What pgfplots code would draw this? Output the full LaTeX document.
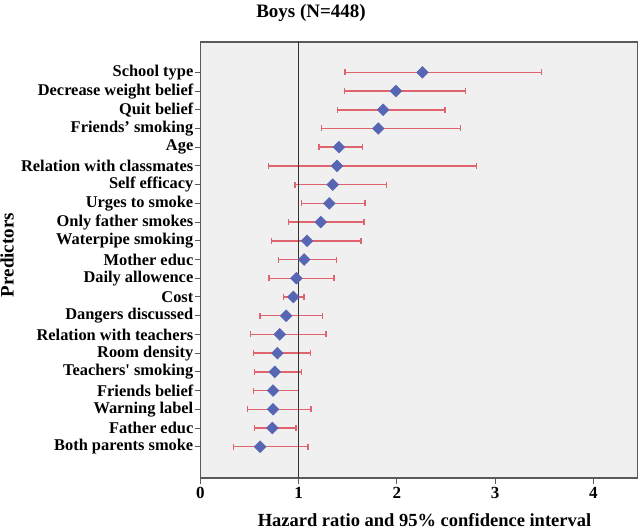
\documentclass[border=0pt]{standalone}
\usepackage{pgfplots}
\pgfplotsset{compat=1.18}
\usepackage{pgfplotstable}
\usepackage{fontspec}
\setmainfont{Liberation Serif}

\definecolor{panel}{RGB}{240,240,240}
\definecolor{frame}{RGB}{90,90,90}
\definecolor{errcol}{RGB}{224,100,110}
\definecolor{dotcol}{RGB}{86,102,178}

% row, hazard ratio, lower CI, upper CI (row 1 = top)
\pgfplotstableread{
row hr   lo    hi
1   2.26 1.47  3.47
2   1.99 1.465 2.70
3   1.86 1.394 2.49
4   1.81 1.234 2.65
5   1.41 1.207 1.648
6   1.39 0.692 2.81
7   1.346 0.963 1.895
8   1.312 1.031 1.675
9   1.224 0.895 1.665
10  1.085 0.726 1.634
11  1.055 0.797 1.387
12  0.977 0.699 1.36
13  0.946 0.848 1.055
14  0.872 0.607 1.245
15  0.807 0.512 1.278
16  0.783 0.543 1.119
17  0.756 0.549 1.031
18  0.739 0.543 1.0
19  0.739 0.482 1.126
20  0.732 0.553 0.973
21  0.607 0.339 1.095
}\hrdata

\begin{document}
\begin{tikzpicture}
\path[use as bounding box] (0,0) rectangle (640pt,530pt);
\begin{axis}[
  at={(200.5pt,52pt)}, anchor=south west,
  scale only axis,
  width=437pt, height=436pt,
  xmin=0, xmax=4.45,
  ymin=-0.62, ymax=22.67,
  y dir=reverse,
  axis background/.style={fill=panel},
  axis line style={draw=frame, line width=1.3pt},
  xtick={0,1,2,3,4},
  ytick={1,...,21},
  yticklabels={School type, Decrease weight belief, Quit belief,
    Friends' smoking, Age, Relation with classmates, Self efficacy,
    Urges to smoke, Only father smokes, Waterpipe smoking, Mother educ,
    Daily allowence, Cost, Dangers discussed, Relation with teachers,
    Room density, Teachers\textquotesingle{} smoking, Friends belief,
    Warning label, Father educ, Both parents smoke},
  tick align=outside,
  major tick length=6pt,
  tick style={draw=frame, line width=1pt},
  xtick pos=bottom, ytick pos=left,
  /pgf/number format/assume math mode=true,
  yticklabel style={font=\fontsize{16.4}{18}\selectfont\bfseries, inner sep=1pt},
  xticklabel style={font=\fontsize{17}{19}\selectfont\bfseries},
  every axis title shift=0pt,
  title={Boys (N=448)},
  title style={font=\fontsize{19}{21}\selectfont\bfseries, inner sep=0pt,
    at={(axis description cs:0.2529,1.0872)}, anchor=north},
  xlabel={Hazard ratio and 95\% confidence interval},
  xlabel style={font=\fontsize{18.5}{20}\selectfont\bfseries, inner sep=0pt,
    at={(axis description cs:0.5126,-0.0955)}, anchor=center},
  ylabel={Predictors},
  ylabel style={font=\fontsize{19}{21}\selectfont\bfseries,
    at={(axis description cs:-0.4425,0.5115)}, anchor=center},
  clip=false,
]
\addplot[draw=none, mark=square*, mark size=4.2pt,
  mark options={rotate=45, fill=dotcol, draw=dotcol},
  error bars/.cd, x dir=both, x explicit,
  error bar style={draw=errcol, line width=1.5pt},
  error mark options={rotate=90, mark size=3pt, draw=errcol, line width=1.3pt}]
  table[x=hr, y=row,
    x error plus expr=\thisrow{hi}-\thisrow{hr},
    x error minus expr=\thisrow{hr}-\thisrow{lo}] {\hrdata};
\addplot[draw=black!80, line width=1.5pt, mark=none] coordinates {(1,-0.62) (1,22.67)};
\end{axis}
\end{tikzpicture}
\end{document}
